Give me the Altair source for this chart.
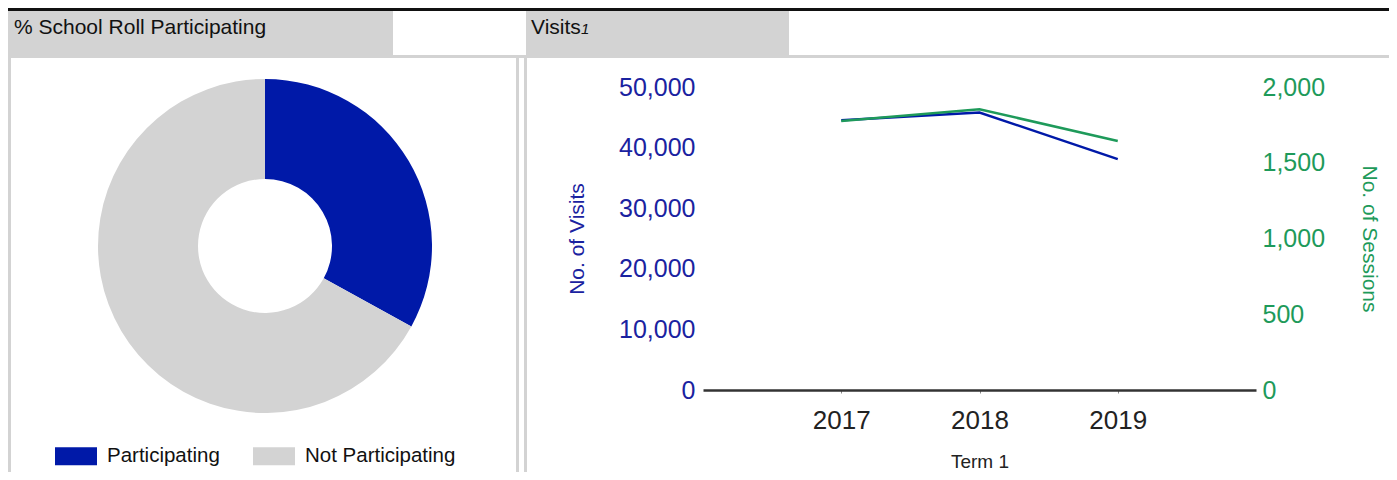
import altair as alt
import pandas as pd

# ---- data ----
years = [2017, 2018, 2019]
visits = [44500, 45800, 38100]
sessions = [1776, 1853, 1644]
part_labels = ["Participating", "Not Participating"]
part_values = [33, 67]
visit_ticks = [0, 10000, 20000, 30000, 40000, 50000]
session_ticks = [0, 500, 1000, 1500, 2000]
header_left = "% School Roll Participating"
header_right = "Visits"
header_right_note = "1"

FONT = "Liberation Sans"
BLUE = "#0019A8"
BLUE_TXT = "#1a22a0"
GREEN = "#1e9a5a"
GRAY = "#d3d3d3"

line_df = pd.DataFrame({"year": years, "visits": visits, "sessions": sessions})
donut_df = pd.DataFrame({"label": part_labels, "value": part_values, "idx": [0, 1]})

one = alt.Data(values=[{"k": 0}])


def rect(x, x2, y, y2, color):
    return alt.Chart(one).mark_rect(color=color).encode(
        x=alt.value(x), x2=alt.value(x2), y=alt.value(y), y2=alt.value(y2)
    )


def text(x, y, s, size, italic=False):
    return alt.Chart(one).mark_text(
        align="left", baseline="alphabetic", font=FONT, fontSize=size,
        fontStyle="italic" if italic else "normal", color="#111"
    ).encode(x=alt.value(x), y=alt.value(y), text=alt.value(s))


x_enc = alt.X(
    "year:Q",
    scale=alt.Scale(domain=[2016, 2020], nice=False),
    axis=alt.Axis(
        values=years, format="d", title="Term 1", grid=False,
        domainColor="#333", domainWidth=2.5, tickColor="#888", tickSize=3,
        labelFontSize=26, labelColor="#222", labelPadding=14, labelFont=FONT,
        titleFontSize=19, titleFontWeight="normal", titleColor="#222",
        titleFont=FONT, titlePadding=19,
    ),
)

visits_line = alt.Chart(line_df).mark_line(color=BLUE, strokeWidth=2.5).encode(
    x=x_enc,
    y=alt.Y(
        "visits:Q",
        scale=alt.Scale(domain=[0, 50000], nice=False),
        axis=alt.Axis(
            orient="left", values=visit_ticks, format=",.0f", title="No. of Visits",
            grid=False, domain=False, ticks=False, labelPadding=8,
            labelFontSize=25, labelColor=BLUE_TXT, labelFont=FONT,
            titleFontSize=21, titleFontWeight="normal", titleColor=BLUE_TXT,
            titleFont=FONT, titlePadding=31,
        ),
    ),
)

sessions_line = alt.Chart(line_df).mark_line(color=GREEN, strokeWidth=2.5).encode(
    x=x_enc,
    y=alt.Y(
        "sessions:Q",
        scale=alt.Scale(domain=[0, 2000], nice=False),
        axis=alt.Axis(
            orient="right", values=session_ticks, format=",.0f", title="No. of Sessions",
            grid=False, domain=False, ticks=False, labelPadding=6,
            labelFontSize=25, labelColor=GREEN, labelFont=FONT,
            titleFontSize=21, titleFontWeight="normal", titleColor=GREEN,
            titleFont=FONT, titlePadding=34,
        ),
    ),
)

donut = alt.Chart(donut_df).mark_arc(innerRadius=67, outerRadius=167).encode(
    theta=alt.Theta("value:Q", stack=True),
    color=alt.Color(
        "label:N",
        scale=alt.Scale(domain=part_labels, range=[BLUE, GRAY]),
        sort=part_labels,
        legend=alt.Legend(
            orient="none", legendX=-648, legendY=348, direction="horizontal",
            title=None, symbolType="M-1,-0.43H1V0.43H-1Z", symbolSize=1764,
            symbolStrokeWidth=0, labelFontSize=20.5, labelFont=FONT,
            labelColor="#111", labelOffset=10, columnPadding=33,
        ),
    ),
    order=alt.Order("idx:Q"),
    x=alt.value(-438),
    y=alt.value(159),
)

decor = [
    rect(-695, 686, -79, -76, "#111"),
    rect(-695, -310, -76, -32, GRAY),
    rect(-177, 86, -76, -32, GRAY),
    rect(-695, 686, -32, -29, GRAY),
    rect(-695, -692, -29, 385, GRAY),
    rect(-187, -184, -29, 385, GRAY),
    rect(-179, -176, -29, 385, GRAY),
    text(-689, -53, header_left, 21),
    text(-172, -53, header_right, 21),
    text(-122, -53, header_right_note, 15, italic=True),
]

chart = (
    alt.layer(*decor, donut, visits_line, sessions_line)
    .resolve_scale(y="independent")
    .properties(
        width=553, height=303,
        autosize=alt.AutoSizeParams(type="none"),
        padding={"left": 695, "top": 79, "right": 133, "bottom": 82},
    )
    .configure(font=FONT)
    .configure_view(strokeWidth=0, stroke="transparent")
)

chart.save("out.html", embed_options={"renderer": "svg", "actions": False})
